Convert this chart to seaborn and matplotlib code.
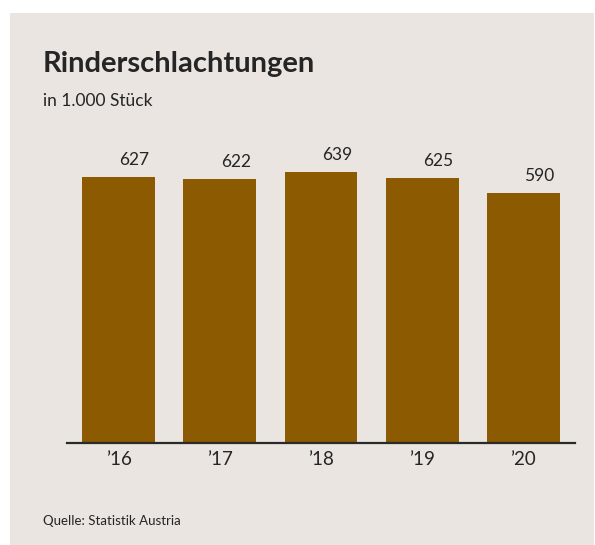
import matplotlib
matplotlib.use("Agg")
import matplotlib.pyplot as plt
from matplotlib.patches import Rectangle
import seaborn as sns
import pandas as pd

# Data
years = ["’16", "’17", "’18", "’19", "’20"]
values = [627, 622, 639, 625, 590]

title = "Rinderschlachtungen"
subtitle = "in 1.000 Stück"
source = "Quelle: Statistik Austria"

bg_color = "#EAE5E1"
bar_color = "#8C5A00"
text_color = "#252525"

sns.set_theme(style="white")
plt.rcParams['font.family'] = ['Lato', 'DejaVu Sans']

df = pd.DataFrame({"Jahr": years, "Wert": values})

W, H = 595, 545
fig = plt.figure(figsize=(W / 100, H / 100), dpi=100, facecolor="white")

# beige panel behind everything
fig.patches.append(Rectangle((10 / W, 0), 584 / W, 1 - 13 / H,
                             transform=fig.transFigure, facecolor=bg_color,
                             edgecolor="none", zorder=-1))

ax = fig.add_axes([67 / W, 102 / H, 508 / W, 297 / H])
ax.set_facecolor("none")
sns.barplot(data=df, x="Jahr", y="Wert", color=bar_color, width=0.72,
            saturation=1, linewidth=0, edgecolor="none", ax=ax)

ax.set_xlim(-0.51, 4.51)
ax.set_ylim(0, 700)
ax.set_xlabel("")
ax.set_ylabel("")
ax.set_yticks([])
for side in ["top", "left", "right"]:
    ax.spines[side].set_visible(False)
ax.spines["bottom"].set_color("#2a2a2a")
ax.spines["bottom"].set_linewidth(1.6)
ax.spines["bottom"].set_zorder(5)
ax.tick_params(axis="x", length=0, pad=6, labelsize=13.5, colors=text_color)

# Value labels (slightly offset to the right of bar centre)
for i, v in enumerate(values):
    ax.annotate(f"{v}", xy=(i, v), xytext=(11.5, 12), textcoords="offset points",
                ha="center", va="center", fontsize=12.5, color=text_color)

fig.text(43 / W, 1 - 64 / H, title, fontsize=21, fontweight="bold",
         color=text_color, ha="left", va="center")
fig.text(43 / W, 1 - 101 / H, subtitle, fontsize=12.5, color=text_color,
         ha="left", va="center")
fig.text(43 / W, 1 - 521 / H, source, fontsize=9.5, color=text_color,
         ha="left", va="center")

fig.savefig("out.png", dpi=100, facecolor=fig.get_facecolor())
plt.close(fig)
